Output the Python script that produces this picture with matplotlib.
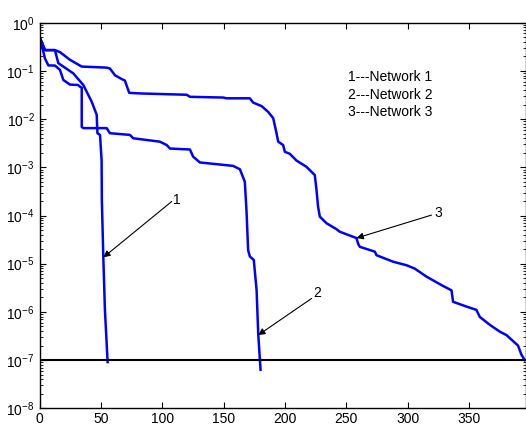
import numpy as np
from matplotlib import pyplot as plt
from matplotlib import ticker

plt.rcParams['font.family'] = ['Liberation Sans', 'DejaVu Sans']
plt.rcParams['mathtext.fontset'] = 'custom'
plt.rcParams['mathtext.rm'] = 'Liberation Sans'
plt.rcParams['mathtext.it'] = 'Liberation Sans'

# network 1
x1 = [0, 4.5, 12.6, 15.3, 19.4, 27.5, 35.7, 42.5, 46.6, 47.2, 49.3, 50.6, 50.8, 52.0, 53.3, 55.5]
y1 = [0.51, 0.27, 0.27, 0.145, 0.123, 0.089, 0.051, 0.023, 0.0123, 0.0051, 0.0047,
      0.0014, 0.00021, 1.35e-5, 1.1e-6, 9.1e-8]

# network 2
x2 = [0, 4.5, 7.2, 12.6, 16.7, 19.4, 24.8, 31.4, 33, 34.4, 34.4, 35.7, 54.7, 57.4, 73.7,
      76.4, 98.1, 103.6, 106.3, 122.6, 125.2, 130.7, 157.8, 163.3, 167.3, 168.7, 170,
      171.4, 174.6, 176.9, 178.2, 180.1]
y2 = [0.51, 0.18, 0.13, 0.129, 0.105, 0.065, 0.052, 0.051, 0.047, 0.045, 0.0069, 0.0065,
      0.0065, 0.0051, 0.0047, 0.004, 0.0034, 0.0029, 0.00245, 0.00234, 0.00166, 0.00126,
      0.00107, 0.00091, 0.0005, 0.00012, 1.9e-5, 1.41e-5, 1.2e-5, 2.8e-6, 3.6e-7, 6.3e-8]

# network 3
x3 = [0, 4.5, 12.6, 16.7, 24.8, 34.4, 54.7, 57.4, 61.5, 66.9, 69.6, 73.1, 83.2, 119.9,
      122.6, 149.7, 152.4, 171.4, 174.1, 181, 186.3, 190.4, 192.6, 194.5, 198.5, 199.9,
      204, 209.4, 217.6, 224.3, 225.7, 227, 228.4, 233.9, 242, 244.7, 258.3, 259.6, 261,
      273.2, 274.6, 288.1, 299, 305.8, 315.3, 327.5, 335.7, 337, 347.9, 356, 358.7, 366.9,
      375, 380.5, 389.9, 392.7, 395.4]
y3 = [0.51, 0.27, 0.27, 0.245, 0.17, 0.123, 0.117, 0.112, 0.081, 0.068, 0.063, 0.035,
      0.034, 0.032, 0.029, 0.028, 0.027, 0.027, 0.022, 0.0186, 0.0141, 0.0105, 0.0059,
      0.0034, 0.0029, 0.0021, 0.0019, 0.00138, 0.00102, 0.00069, 0.00034, 0.000151, 9.5e-5,
      6.9e-5, 5.2e-5, 4.6e-5, 3.4e-5, 2.6e-5, 2.24e-5, 1.78e-5, 1.5e-5, 1.1e-5, 9.3e-6,
      7.9e-6, 5.4e-6, 3.6e-6, 2.8e-6, 1.62e-6, 1.29e-6, 1.1e-6, 7.9e-7, 5.4e-7, 3.9e-7,
      3.3e-7, 2.0e-7, 1.29e-7, 1.0e-7]

threshold = 1e-7
legend_lines = ['1---Network 1', '2---Network 2', '3---Network 3']

# (label, label pos, arrow tail, arrow head)
callouts = [
    ('1', (112, 2.1e-4), (107.7, 1.95e-4), (52.0, 1.35e-5)),
    ('2', (226.2, 2.45e-6), (221.7, 1.9e-6), (178.2, 3.3e-7)),
    ('3', (324.8, 1.12e-4), (319.4, 1.02e-4), (258.3, 3.4e-5)),
]

fig = plt.figure(figsize=(5.26, 4.28), dpi=100)
ax = fig.add_axes([39.5 / 526, 1 - 408.3 / 428, 486 / 526, 385.6 / 428])

blue = '#0000ff'
ax.plot(x1, y1, color=blue, lw=1.8)
ax.plot(x2, y2, color=blue, lw=1.8)
ax.plot(x3, y3, color=blue, lw=1.8)
ax.axhline(threshold, color='k', lw=1.5)

ax.set_yscale('log')
ax.set_xlim(0, 396)
ax.set_ylim(1e-8, 1)
ax.set_xticks(np.arange(0, 351, 50))
ax.yaxis.set_major_locator(ticker.LogLocator(base=10, numticks=20))
ax.yaxis.set_minor_locator(ticker.LogLocator(base=10, subs=np.arange(2, 10), numticks=20))
ax.yaxis.set_minor_formatter(ticker.NullFormatter())
ax.tick_params(which='both', direction='in', top=True, right=True, labelsize=10)
ax.tick_params(which='major', length=4, width=0.8)
ax.tick_params(which='minor', length=2, width=0.6)
ax.tick_params(axis='x', pad=2.5)
for s in ax.spines.values():
    s.set_linewidth(1.0)

for i, t in enumerate(legend_lines):
    ax.text(251.5, [0.074, 0.032, 0.0141][i], t, fontsize=10, va='center', ha='left')

for lab, pos, tail, head in callouts:
    ax.annotate('', xy=head, xytext=tail,
                arrowprops=dict(arrowstyle='-|>', color='k', lw=0.8,
                                mutation_scale=10, shrinkA=0, shrinkB=0))
    ax.text(pos[0], pos[1], lab, fontsize=10, ha='center', va='center')

fig.savefig('out.png', dpi=100)
